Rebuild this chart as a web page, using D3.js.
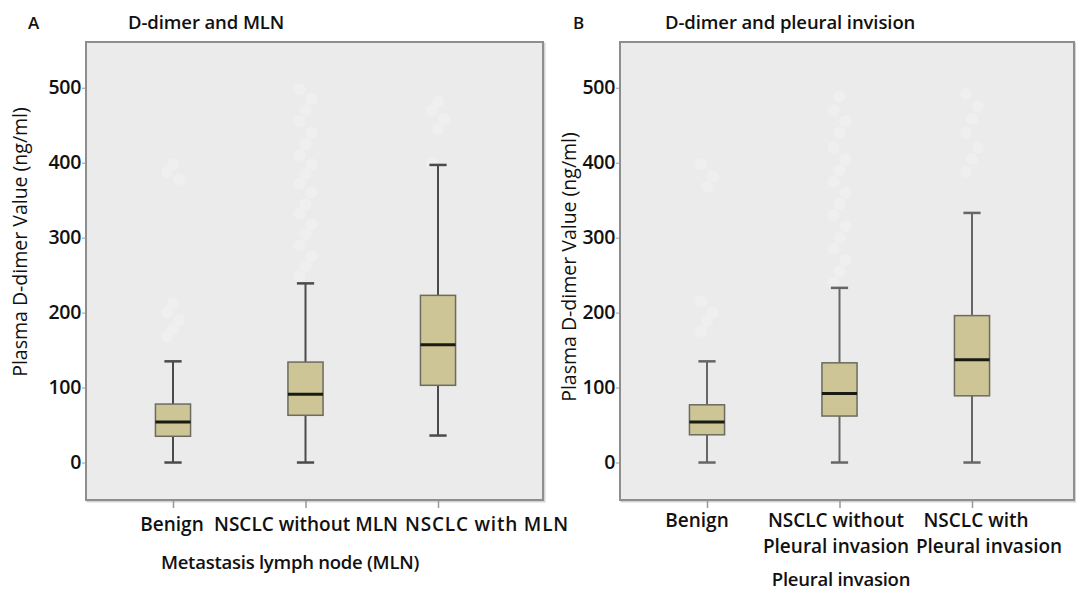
<!DOCTYPE html>
<html>
<head>
<meta charset="utf-8">
<script src="https://cdn.jsdelivr.net/npm/d3@7"></script>
<style>
  body { margin: 0; background: #fff; }
  svg { display: block; font-family: "Open Sans", sans-serif; }
</style>
</head>
<body>
<svg id="chart"></svg>
<script>
let width = 1076;
let height = 590;

// shared y ticks
let yTicks = [0, 100, 200, 300, 400, 500];

// panel A : D-dimer and MLN
let mlnGroups = ["Benign", "NSCLC without MLN", "NSCLC with MLN"];
let mlnMin = [0, 0, 36];
let mlnQ1 = [35, 63, 103];
let mlnMedian = [54, 91, 157];
let mlnQ3 = [78, 134, 223];
let mlnMax = [135, 239, 397];
let mlnOutliers = [
    [168, 178, 190, 200, 212, 378, 388, 398],
    [248, 262, 275, 290, 305, 318, 332, 345, 360, 372, 385, 398, 410, 425, 440, 455, 470, 485, 498],
    [400, 445, 458, 470, 482]
];
let mlnLabels = [["Benign"], ["NSCLC without MLN"], ["NSCLC with MLN"]];

// panel B : D-dimer and pleural invasion
let pleuralGroups = ["Benign", "NSCLC without Pleural invasion", "NSCLC with Pleural invasion"];
let pleuralMin = [0, 0, 0];
let pleuralQ1 = [37, 62, 89];
let pleuralMedian = [54, 92, 137];
let pleuralQ3 = [77, 133, 196];
let pleuralMax = [135, 233, 333];
let pleuralOutliers = [
    [175, 188, 200, 215, 368, 382, 398],
    [240, 255, 270, 285, 300, 315, 330, 345, 360, 375, 390, 405, 420, 440, 455, 470, 488],
    [388, 405, 420, 440, 458, 475, 492]
];
let pleuralLabels = [["Benign"], ["NSCLC without", "Pleural invasion"], ["NSCLC with", "Pleural invasion"]];

let svg = d3.select("#chart")
            .attr("width", width)
            .attr("height", height);

function drawPanel(p) {
    let g = svg.append("g");

    let yScale = d3.scaleLinear()
                   .domain([-50, 561])
                   .range([p.bottom, p.top]);

    let xScale = d3.scalePoint()
                   .domain(p.groups)
                   .range([p.left + 87, p.right - p.padRight]);

    let boxW = xScale.step() * 0.265;
    let capW = xScale.step() * 0.13;

    // frame
    g.append("rect")
     .attr("x", p.left + 1.5)
     .attr("y", p.top + 1.5)
     .attr("width", p.right - p.left)
     .attr("height", p.bottom - p.top)
     .attr("fill", "none")
     .attr("stroke", "#d4d4d4")
     .attr("stroke-width", 2);
    g.append("rect")
     .attr("x", p.left)
     .attr("y", p.top)
     .attr("width", p.right - p.left)
     .attr("height", p.bottom - p.top)
     .attr("fill", "#ebebeb")
     .attr("stroke", "#8e8e8e")
     .attr("stroke-width", 2);

    // y axis
    let yAxis = d3.axisLeft(yScale)
                  .tickValues(yTicks)
                  .tickSize(3)
                  .tickPadding(1);
    let ya = g.append("g")
              .attr("transform", `translate(${p.left - 1}, 0)`)
              .call(yAxis);
    ya.select(".domain").remove();
    ya.selectAll("line").attr("stroke", "#999");
    ya.selectAll("text")
      .attr("font-family", "Open Sans")
      .attr("font-size", 19.5)
      .attr("font-weight", 600)
      .attr("letter-spacing", -0.3)
      .attr("fill", "#111");

    // x axis ticks
    let xAxis = d3.axisBottom(xScale)
                  .tickSize(7)
                  .tickFormat("");
    let xa = g.append("g")
              .attr("transform", `translate(0, ${p.bottom + 1})`)
              .call(xAxis);
    xa.select(".domain").remove();
    xa.selectAll("line").attr("stroke", "#999").attr("stroke-width", 1.5);

    // outliers (very faint, as in the scan)
    p.outliers.forEach((vals, i) => {
        g.selectAll(null)
         .data(vals)
         .enter()
         .append("circle")
         .attr("cx", (d, j) => xScale(p.groups[i]) + [-6, 0, 6][j % 3])
         .attr("cy", d => yScale(d))
         .attr("r", 6)
         .attr("fill", "#efefef");
    });

    let rows = p.groups.map((d, i) => ({
        name: d, min: p.min[i], q1: p.q1[i], med: p.median[i], q3: p.q3[i], max: p.max[i]
    }));

    let box = g.selectAll(".box")
               .data(rows)
               .enter()
               .append("g")
               .attr("class", "box");

    box.append("line")
       .attr("x1", d => xScale(d.name))
       .attr("x2", d => xScale(d.name))
       .attr("y1", d => yScale(d.max))
       .attr("y2", d => yScale(d.min))
       .attr("stroke", p.whisker)
       .attr("stroke-width", 2);

    box.selectAll(".cap")
       .data(d => [d.min, d.max].map(v => ({ name: d.name, v: v })))
       .enter()
       .append("line")
       .attr("x1", d => xScale(d.name) - capW / 2)
       .attr("x2", d => xScale(d.name) + capW / 2)
       .attr("y1", d => yScale(d.v))
       .attr("y2", d => yScale(d.v))
       .attr("stroke", p.whisker)
       .attr("stroke-width", 2.5);

    box.append("rect")
       .attr("x", d => xScale(d.name) - boxW / 2)
       .attr("y", d => yScale(d.q3))
       .attr("width", boxW)
       .attr("height", d => yScale(d.q1) - yScale(d.q3))
       .attr("fill", "#cdc595")
       .attr("stroke", "#6b6b60")
       .attr("stroke-width", 1.5);

    box.append("line")
       .attr("x1", d => xScale(d.name) - boxW / 2)
       .attr("x2", d => xScale(d.name) + boxW / 2)
       .attr("y1", d => yScale(d.med))
       .attr("y2", d => yScale(d.med))
       .attr("stroke", "#1a1a14")
       .attr("stroke-width", 3);

    // category labels
    p.labels.forEach((lines, i) => {
        lines.forEach((t, k) => {
            g.append("text")
             .attr("x", xScale(p.groups[i]) + p.labelDx[i][k])
             .attr("y", p.labelY[k])
             .attr("text-anchor", "middle")
             .attr("font-size", 19)
             .attr("font-weight", 600)
             .attr("letter-spacing", p.labelSpacing[i])
             .attr("fill", "#111")
             .text(t);
        });
    });

    // axis titles
    g.append("text")
     .attr("x", p.xTitleX)
     .attr("y", p.xTitleY)
     .attr("text-anchor", "middle")
     .attr("font-size", 18.5)
     .attr("font-weight", 600)
     .attr("letter-spacing", -0.25)
     .attr("fill", "#111")
     .text(p.xTitle);

    g.append("text")
     .attr("transform", `translate(${p.yTitleX}, ${p.yTitleY}) rotate(-90)`)
     .attr("text-anchor", "middle")
     .attr("dy", "0.35em")
     .attr("font-size", 19.5)
     .attr("font-weight", 500)
     .attr("fill", "#111")
     .text("Plasma D-dimer Value (ng/ml)");

    // panel letter and title
    g.append("text")
     .attr("x", p.letterX)
     .attr("y", 29)
     .attr("font-size", 17)
     .attr("font-weight", 600)
     .attr("fill", "#111")
     .text(p.letter);

    g.append("text")
     .attr("x", p.titleX)
     .attr("y", 29)
     .attr("font-size", 18.5)
     .attr("font-weight", 600)
     .attr("letter-spacing", -0.1)
     .attr("fill", "#111")
     .text(p.title);
}

drawPanel({
    letter: "A", letterX: 28,
    title: "D-dimer and MLN", titleX: 128,
    left: 86, right: 543, top: 42, bottom: 500, padRight: 105,
    groups: mlnGroups, min: mlnMin, q1: mlnQ1, median: mlnMedian, q3: mlnQ3, max: mlnMax,
    outliers: mlnOutliers,
    whisker: "#4a4a4a",
    labels: mlnLabels, labelDx: [[-1], [0.5], [49]], labelY: [531, 553], labelSpacing: [0, 0, 0.8],
    xTitle: "Metastasis lymph node (MLN)", xTitleX: 290, xTitleY: 569,
    yTitleX: 20, yTitleY: 242
});

drawPanel({
    letter: "B", letterX: 573,
    title: "D-dimer and pleural invision", titleX: 665,
    left: 620, right: 1074, top: 42, bottom: 500, padRight: 102,
    groups: pleuralGroups, min: pleuralMin, q1: pleuralQ1, median: pleuralMedian, q3: pleuralQ3, max: pleuralMax,
    outliers: pleuralOutliers,
    whisker: "#666",
    labels: pleuralLabels, labelDx: [[-10, 0], [-3.5, -3.5], [4, 17]], labelY: [527, 553], labelSpacing: [0, 0, 0],
    xTitle: "Pleural invasion", xTitleX: 841, xTitleY: 586,
    yTitleX: 569, yTitleY: 267
});
</script>
</body>
</html>
